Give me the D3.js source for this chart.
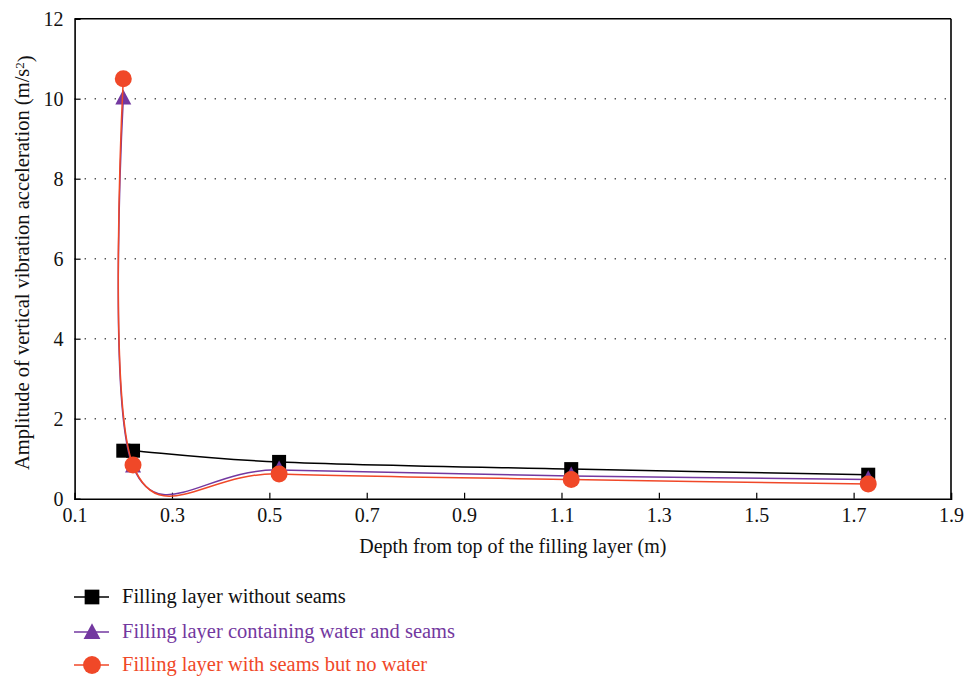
<!DOCTYPE html>
<html>
<head>
<meta charset="utf-8">
<script src="https://cdn.jsdelivr.net/npm/d3@7"></script>
<style>
  html, body { margin: 0; padding: 0; background: #fff; }
  svg { display: block; }
  text { font-family: "Liberation Serif", "DejaVu Serif", serif; }
</style>
</head>
<body>
<svg id="chart" width="967" height="679"></svg>
<script>
// Depth below the top of the filling layer (m)
const depthsBlack  = [0.2, 0.22, 0.52, 1.12, 1.73];
const depthsPurple = [0.2, 0.22, 0.52, 1.12, 1.73];
const depthsRed    = [0.2, 0.22, 0.52, 1.12, 1.73];

// Amplitude of vertical vibration acceleration (m/s²)
const noSeams       = [1.2, 1.2, 0.92, 0.74, 0.6];
const waterAndSeams = [10.0, 0.8, 0.72, 0.57, 0.48];
const seamsNoWater  = [10.5, 0.84, 0.62, 0.48, 0.37];

const seriesNames = [
  "Filling layer without seams",
  "Filling layer containing water and seams",
  "Filling layer with seams but no water"
];

const xTicks = [0.1, 0.3, 0.5, 0.7, 0.9, 1.1, 1.3, 1.5, 1.7, 1.9];
const yTicks = [0, 2, 4, 6, 8, 10, 12];
const gridValues = [2, 4, 6, 8, 10];

const colors = ["#000000", "#7338a0", "#f04828"];
const shapes = ["square", "triangle", "circle"];

const svg = d3.select("#chart");
const margin = { left: 74.6, right: 967 - 951, top: 18.7, bottom: 679 - 498.7 };
const W = 967, H = 679;

const x = d3.scaleLinear().domain([0.1, 1.9]).range([margin.left, W - margin.right]);
const y = d3.scaleLinear().domain([0, 12]).range([H - margin.bottom, margin.top]);

// dotted horizontal grid
svg.append("g")
  .selectAll("line")
  .data(gridValues)
  .join("line")
  .attr("x1", x(0.1)).attr("x2", x(1.9))
  .attr("y1", d => y(d)).attr("y2", d => y(d))
  .attr("stroke", "#555")
  .attr("stroke-width", 1.4)
  .attr("stroke-dasharray", "1.4,8.6");

// frame: top and right edges
svg.append("line")
  .attr("x1", x(0.1)).attr("x2", x(1.9))
  .attr("y1", y(12)).attr("y2", y(12))
  .attr("stroke", "#000").attr("stroke-width", 1.6);
svg.append("line")
  .attr("x1", x(1.9)).attr("x2", x(1.9))
  .attr("y1", y(12)).attr("y2", y(0))
  .attr("stroke", "#000").attr("stroke-width", 1.6);

// axes
const xAxis = d3.axisBottom(x)
  .tickValues(xTicks)
  .tickFormat(d3.format(".1f"))
  .tickSize(-6)
  .tickPadding(9);
const gx = svg.append("g")
  .attr("transform", `translate(0,${y(0)})`)
  .call(xAxis);

const yAxis = d3.axisLeft(y)
  .tickValues(yTicks)
  .tickFormat(d3.format("d"))
  .tickSize(-6)
  .tickPadding(11);
const gy = svg.append("g")
  .attr("transform", `translate(${x(0.1)},0)`)
  .call(yAxis);

[gx, gy].forEach(g => {
  g.select(".domain").attr("stroke", "#000").attr("stroke-width", 1.6);
  g.selectAll(".tick line").attr("stroke", "#000").attr("stroke-width", 1.2);
  g.selectAll(".tick text")
    .attr("fill", "#111")
    .style("font-size", "20px")
    .style("font-family", '"Liberation Serif", serif');
});
gy.selectAll(".tick line").filter(d => d === 12 || d === 0).remove();
gx.selectAll(".tick line").filter(d => d === 0.1 || d === 1.9).remove();

// axis titles
svg.append("text")
  .attr("x", (x(0.1) + x(1.9)) / 2)
  .attr("y", 553)
  .attr("text-anchor", "middle")
  .attr("fill", "#111")
  .style("font-size", "20px")
  .text("Depth from top of the filling layer (m)");

const yt = svg.append("text")
  .attr("transform", `translate(29,${(y(0) + y(12)) / 2 + 4}) rotate(-90)`)
  .attr("text-anchor", "middle")
  .attr("fill", "#111")
  .style("font-size", "20.5px");
yt.append("tspan").text("Amplitude of vertical vibration acceleration (m/s");
yt.append("tspan").attr("dy", "-0.4em").style("font-size", "13px").text("2");
yt.append("tspan").attr("dy", "0.4em").text(")");

// marker drawing helper
function drawMarker(g, shape, cx, cy, color, scale) {
  const s = scale || 1;
  if (shape === "square") {
    const a = 14 * s;
    g.append("rect")
      .attr("x", cx - a / 2).attr("y", cy - a / 2)
      .attr("width", a).attr("height", a)
      .attr("fill", color);
  } else if (shape === "triangle") {
    const w = 16 * s, h = 15 * s;
    g.append("path")
      .attr("d", `M${cx},${cy - h * 0.62}L${cx + w / 2},${cy + h * 0.38}L${cx - w / 2},${cy + h * 0.38}Z`)
      .attr("fill", color);
  } else {
    g.append("circle")
      .attr("cx", cx).attr("cy", cy).attr("r", 8.5 * s)
      .attr("fill", color);
  }
}

const seriesData = [
  d3.zip(depthsBlack, noSeams),
  d3.zip(depthsPurple, waterAndSeams),
  d3.zip(depthsRed, seamsNoWater)
];

// uniform Catmull-Rom spline through the measured points
const line = d3.line()
  .x(d => x(d[0]))
  .y(d => y(d[1]))
  .curve(d3.curveCatmullRom.alpha(0));

seriesData.forEach((pts, i) => {
  const g = svg.append("g");
  g.append("path")
    .datum(pts)
    .attr("d", line)
    .attr("fill", "none")
    .attr("stroke", colors[i])
    .attr("stroke-width", 1.5);
  pts.forEach(p => drawMarker(g, shapes[i], x(p[0]), y(p[1]), colors[i]));
});

// legend
const legendY = [597, 632, 665];
seriesNames.forEach((name, i) => {
  const g = svg.append("g");
  g.append("line")
    .attr("x1", 74).attr("x2", 109)
    .attr("y1", legendY[i]).attr("y2", legendY[i])
    .attr("stroke", colors[i]).attr("stroke-width", 1.5);
  drawMarker(g, shapes[i], 92, legendY[i] + (shapes[i] === "triangle" ? 1 : 0), colors[i], 1.05);
  g.append("text")
    .attr("x", 122)
    .attr("y", legendY[i] + 6)
    .attr("fill", i === 0 ? "#111" : colors[i])
    .style("font-size", "20.5px")
    .text(name);
});
</script>
</body>
</html>
